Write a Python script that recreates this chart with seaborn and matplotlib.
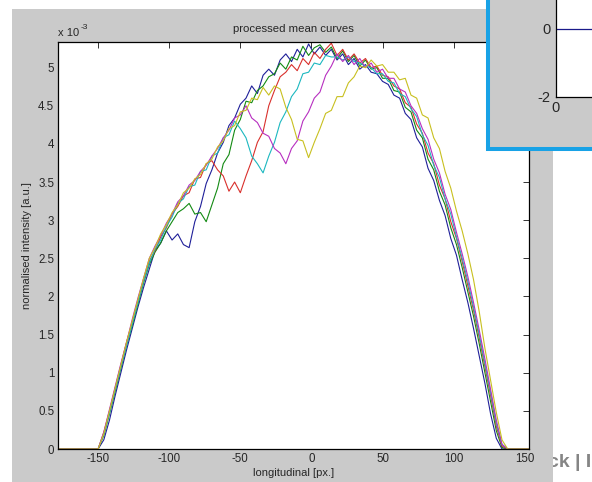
import matplotlib
matplotlib.use("Agg")
import matplotlib.pyplot as plt
from matplotlib.patches import Rectangle
from matplotlib.ticker import FuncFormatter
import pandas as pd
import seaborn as sns

sns.set_theme(style="white")
plt.rcParams["font.family"] = ["Liberation Sans", "DejaVu Sans"]

# sample positions along the profile [px.]
positions = [
    -178,
    -150, -146, -142, -138, -134, -130, -126, -122,
    -118, -114, -110, -106, -102, -98, -94, -90,
    -86, -82, -78, -74, -70, -66, -62, -58,
    -54, -50, -46, -42, -38, -34, -30, -26,
    -22, -18, -14, -10, -6, -2, 2, 6,
    10, 14, 18, 22, 26, 30, 34, 38,
    42, 46, 50, 54, 58, 62, 66, 70,
    74, 78, 82, 86, 90, 94, 98, 102,
    106, 110, 114, 118, 122, 126, 130, 134, 138,
    153,
]

# mean normalised intensity of each curve, in units of 1e-3
curve_blue = [
    0.00,
    0.00, 0.12, 0.38, 0.70, 1.00, 1.30, 1.58, 1.86,
    2.12, 2.36, 2.60, 2.70, 2.86, 2.74, 2.82, 2.68,
    2.64, 2.98, 3.18, 3.48, 3.66, 3.88, 4.02, 4.24,
    4.34, 4.52, 4.60, 4.76, 4.66, 4.90, 4.98, 4.90,
    5.10, 5.18, 5.08, 5.24, 5.14, 5.31, 5.18, 5.27,
    5.16, 5.24, 5.10, 5.18, 5.04, 5.12, 4.98, 5.04,
    4.94, 4.92, 4.82, 4.78, 4.64, 4.60, 4.40, 4.32,
    4.08, 3.96, 3.68, 3.52, 3.26, 3.06, 2.76, 2.54,
    2.22, 1.92, 1.58, 1.22, 0.86, 0.46, 0.14, 0.00, 0.00,
    0.00,
]
curve_green = [
    0.00,
    0.00, 0.18, 0.46, 0.76, 1.06, 1.36, 1.62, 1.90,
    2.18, 2.42, 2.58, 2.70, 2.86, 2.98, 3.10, 3.15,
    3.22, 3.08, 3.10, 2.98, 3.20, 3.42, 3.74, 3.86,
    4.18, 4.32, 4.56, 4.54, 4.70, 4.76, 4.88, 4.92,
    5.06, 4.98, 5.14, 5.10, 5.28, 5.16, 5.26, 5.30,
    5.20, 5.27, 5.12, 5.22, 5.08, 5.16, 5.02, 5.10,
    4.98, 5.00, 4.86, 4.86, 4.70, 4.68, 4.48, 4.42,
    4.18, 4.08, 3.80, 3.66, 3.38, 3.20, 2.90, 2.68,
    2.38, 2.06, 1.74, 1.38, 1.00, 0.62, 0.24, 0.02, 0.00,
    0.00,
]
curve_red = [
    0.00,
    0.00, 0.22, 0.50, 0.80, 1.10, 1.40, 1.66, 1.94,
    2.22, 2.46, 2.60, 2.78, 2.90, 3.08, 3.18, 3.32,
    3.36, 3.54, 3.56, 3.74, 3.78, 3.66, 3.58, 3.38,
    3.50, 3.36, 3.58, 3.78, 4.02, 4.16, 4.50, 4.70,
    4.88, 4.94, 5.04, 4.96, 5.12, 5.04, 5.20, 5.12,
    5.24, 5.32, 5.16, 5.24, 5.10, 5.18, 5.06, 5.12,
    5.00, 5.02, 4.90, 4.88, 4.76, 4.72, 4.54, 4.48,
    4.26, 4.14, 3.88, 3.74, 3.46, 3.28, 2.98, 2.76,
    2.46, 2.14, 1.82, 1.46, 1.08, 0.70, 0.30, 0.04, 0.00,
    0.00,
]
curve_cyan = [
    0.00,
    0.00, 0.20, 0.48, 0.78, 1.08, 1.36, 1.64, 1.92,
    2.20, 2.44, 2.62, 2.74, 2.92, 3.04, 3.22, 3.28,
    3.44, 3.46, 3.64, 3.66, 3.84, 3.88, 4.08, 4.12,
    4.30, 4.20, 4.08, 3.84, 3.74, 3.62, 3.84, 4.02,
    4.28, 4.42, 4.62, 4.72, 4.92, 4.94, 5.06, 5.04,
    5.16, 5.14, 5.14, 5.10, 5.14, 5.08, 5.06, 5.02,
    5.00, 4.92, 4.92, 4.82, 4.80, 4.66, 4.62, 4.46,
    4.36, 4.12, 3.98, 3.72, 3.56, 3.28, 3.08, 2.78,
    2.50, 2.20, 1.86, 1.50, 1.12, 0.74, 0.34, 0.06, 0.00,
    0.00,
]
curve_magenta = [
    0.00,
    0.00, 0.22, 0.52, 0.82, 1.12, 1.40, 1.70, 1.98,
    2.24, 2.50, 2.66, 2.80, 2.96, 3.08, 3.24, 3.32,
    3.46, 3.52, 3.64, 3.72, 3.84, 3.94, 4.08, 4.18,
    4.34, 4.38, 4.50, 4.34, 4.28, 4.14, 4.10, 3.94,
    3.88, 3.74, 3.94, 4.04, 4.30, 4.42, 4.60, 4.68,
    4.90, 5.02, 5.18, 5.08, 5.16, 5.04, 5.12, 5.00,
    5.06, 4.94, 4.98, 4.86, 4.86, 4.72, 4.68, 4.50,
    4.40, 4.20, 4.06, 3.80, 3.62, 3.34, 3.14, 2.84,
    2.56, 2.26, 1.92, 1.56, 1.18, 0.78, 0.38, 0.06, 0.00,
    0.00,
]
curve_yellow = [
    0.00,
    0.00, 0.20, 0.50, 0.80, 1.10, 1.40, 1.68, 1.96,
    2.24, 2.50, 2.64, 2.82, 2.94, 3.10, 3.20, 3.36,
    3.42, 3.54, 3.60, 3.74, 3.80, 3.96, 4.04, 4.20,
    4.24, 4.42, 4.44, 4.60, 4.58, 4.74, 4.64, 4.76,
    4.72, 4.48, 4.32, 4.06, 4.04, 3.82, 4.02, 4.20,
    4.40, 4.44, 4.62, 4.62, 4.80, 4.88, 5.02, 5.00,
    5.10, 5.02, 5.04, 4.94, 4.94, 4.84, 4.86, 4.64,
    4.60, 4.38, 4.34, 4.08, 3.94, 3.64, 3.42, 3.12,
    2.86, 2.56, 2.22, 1.80, 1.32, 0.90, 0.48, 0.12, 0.00,
    0.00,
]

curve_names = ["1", "2", "3", "4", "5", "6"]
curve_values = [curve_blue, curve_green, curve_red, curve_cyan,
                curve_magenta, curve_yellow]
curve_colors = ["#1f1f99", "#138a13", "#d9302c", "#1cb8c0", "#b72fc0", "#c8c020"]

x_ticks = [-150, -100, -50, 0, 50, 100, 150]
y_ticks = [0, 0.5, 1, 1.5, 2, 2.5, 3, 3.5, 4, 4.5, 5]

inset_x = [0, 400]
inset_y = [0, 0]

rows = []
for name, vals in zip(curve_names, curve_values):
    for p, v in zip(positions, vals):
        rows.append({"longitudinal": p, "intensity": v, "curve": name})
df = pd.DataFrame(rows)

W, H = 592, 482
fig = plt.figure(figsize=(W / 100, H / 100), dpi=100)
fig.patch.set_facecolor("white")

GRAY = "#cacaca"

def fx(px):
    return px / W

def fy(py):
    return 1 - py / H

# text of the page lying behind the window
fig.text(fx(547.5), fy(467), "ck | I", fontsize=14, fontweight="bold",
         color="#858585", ha="left", va="baseline", zorder=-3)

# figure window background
fig.add_artist(Rectangle((fx(12), 0), fx(553) - fx(12), fy(9), transform=fig.transFigure,
                         facecolor=GRAY, edgecolor="none", zorder=-2))

# main axes
L, R, T, B = 58.3, 529, 41.7, 449
ax = fig.add_axes([fx(L), fy(B), fx(R) - fx(L), fy(T) - fy(B)])
ax.set_zorder(0)
ax.set_facecolor("white")
sns.lineplot(data=df, x="longitudinal", y="intensity", hue="curve",
             palette=curve_colors, sort=False, estimator=None, lw=0.8,
             legend=False, ax=ax)
ax.set_xlim(-178, 153)
ax.set_ylim(0, 5.34)
ax.set_xticks(x_ticks)
ax.set_yticks(y_ticks)
fmt = FuncFormatter(lambda v, pos: "%g" % v)
ax.xaxis.set_major_formatter(fmt)
ax.yaxis.set_major_formatter(fmt)
ax.tick_params(direction="in", length=4, width=0.7, top=True, right=True,
               labelsize=8.3, labelcolor="#262626", color="#333333", pad=3)
for s in ax.spines.values():
    s.set_color("black")
    s.set_linewidth(0.9)
    s.set_visible(True)
ax.set_xlabel("longitudinal [px.]", fontsize=8, color="#262626", labelpad=2)
ax.set_ylabel("normalised intensity [a.u.]", fontsize=8, color="#262626", labelpad=4)
ax.set_title("processed mean curves", fontsize=8.2, color="#262626", pad=7)
fig.text(fx(58), fy(36), "x 10", fontsize=8, color="#262626", va="baseline", ha="left")
fig.text(fx(80.5), fy(29), "-3", fontsize=6, color="#262626", va="baseline", ha="left")

# second window overlapping at the top right
fig.add_artist(Rectangle((fx(488), fy(148.7)), fx(800) - fx(488), fy(-50) - fy(148.7),
                         transform=fig.transFigure, facecolor=GRAY, edgecolor="#18a2e6",
                         linewidth=2.9, zorder=5))
IL, IB = 556, 97
ax2 = fig.add_axes([fx(IL), fy(IB), fx(720) - fx(IL), fy(-40) - fy(IB)])
ax2.set_zorder(6)
ax2.set_facecolor("white")
sns.lineplot(x=inset_x, y=inset_y, color="#1a1a8a", lw=0.9, ax=ax2)
ax2.set_xlim(0, 400)
ax2.set_ylim(-2, 2)
ax2.set_xticks([0])
ax2.set_yticks([-2, 0])
ax2.xaxis.set_major_formatter(fmt)
ax2.yaxis.set_major_formatter(fmt)
ax2.tick_params(direction="in", length=4, labelsize=10.5, labelcolor="#262626",
                pad=4)
ax2.tick_params(axis="x", pad=3)
for s in ax2.spines.values():
    s.set_color("black")
    s.set_linewidth(0.9)
    s.set_visible(True)

fig.savefig("out.png", dpi=100)
